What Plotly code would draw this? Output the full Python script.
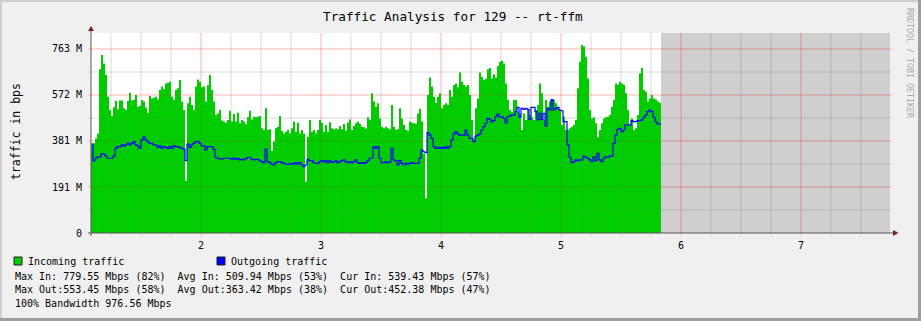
import plotly.graph_objects as go

# ---------------- data (values in M bits/s) ----------------
incoming_mbps = [
    365, 372, 392, 413, 679, 738, 703, 655, 565, 510,
    485, 521, 547, 513, 549, 549, 517, 510, 547, 582,
    549, 551, 572, 524, 527, 551, 545, 520, 499, 568,
    558, 561, 565, 554, 593, 607, 596, 620, 623, 627,
    565, 551, 593, 600, 634, 545, 510, 217, 538, 565,
    531, 510, 607, 637, 627, 604, 607, 545, 614, 655,
    593, 545, 489, 496, 510, 466, 462, 457, 469, 507,
    462, 493, 462, 499, 455, 469, 462, 451, 480, 507,
    471, 482, 480, 482, 485, 434, 427, 517, 427, 430,
    341, 379, 434, 441, 485, 424, 413, 420, 427, 413,
    434, 462, 420, 457, 413, 427, 413, 213, 399, 469,
    420, 427, 413, 427, 469, 457, 420, 448, 420, 459,
    434, 430, 433, 430, 444, 430, 452, 423, 457, 471,
    427, 444, 455, 462, 452, 441, 438, 433, 480, 469,
    579, 545, 524, 538,
    475, 441, 434, 441, 434, 430, 531, 441, 427, 430,
    517, 475, 448, 427, 424, 462, 457, 455, 452, 496,
    515, 462, 330, 144, 572, 645, 607, 565, 540, 565,
    579, 517, 531, 538, 531, 593, 565, 614, 620, 604,
    665, 627, 614, 607, 614, 572, 469, 386, 517, 558,
    665, 648, 634, 641, 679, 684, 641, 658, 645, 692,
    710, 714, 703, 620, 551, 510, 503, 551, 551, 503,
    496, 427, 496, 469, 510, 489, 480, 469, 510, 531,
    620, 579, 469, 551, 524, 545, 551, 551, 538, 517,
    510, 448, 482, 427, 427, 434, 441, 448, 469, 600,
    710, 779.55, 773, 731, 641, 510, 475, 480, 455, 397,
    427, 455, 475, 480, 482, 489, 524, 551, 620, 614,
    627, 620, 614, 579, 510, 448, 475, 427, 434, 489,
    662, 684, 593, 586, 545, 558, 572, 558, 554, 545,
    539.43,
]

outgoing_mbps = [
    369, 299, 310, 316, 316, 328, 328, 319, 310, 310,
    310, 319, 351, 358, 358, 365, 361, 365, 372, 365,
    372, 379, 365, 361, 351, 386, 399, 386, 379, 372,
    372, 365, 365, 355, 361, 351, 358, 355, 351, 358,
    351, 361, 358, 358, 355, 351, 348, 300, 369, 355,
    365, 372, 379, 379, 372, 361, 361, 344, 358, 358,
    358, 347, 314, 310, 307, 307, 310, 310, 310, 310,
    305, 311, 305, 310, 303, 305, 303, 308, 314, 314,
    305, 303, 305, 305, 299, 296, 292, 347, 296, 292,
    286, 282, 292, 296, 296, 292, 289, 286, 286, 286,
    289, 286, 292, 286, 292, 283, 275, 282, 305, 300,
    300, 292, 289, 289, 296, 300, 295, 300, 292, 300,
    293, 295, 300, 292, 296, 300, 303, 296, 292, 296,
    292, 296, 303, 292, 289, 292, 289, 292, 300, 310,
    310, 358, 351, 358,
    310, 292, 292, 295, 292, 295, 351, 303, 300, 282,
    300, 289, 282, 289, 286, 289, 292, 289, 289, 289,
    310, 344, 337, 333, 416, 406, 392, 358, 351, 355,
    351, 355, 351, 358, 351, 358, 386, 411, 420, 411,
    406, 406, 406, 427, 406, 392, 392, 379, 402, 406,
    411, 427, 441, 455, 475, 471, 462, 466, 482, 493,
    480, 482, 475, 457, 482, 485, 489, 489, 503, 521,
    480, 517, 513, 517, 513, 471, 521, 521, 503, 469,
    496, 471, 496, 444, 517, 510, 553.45, 510, 517, 521,
    510, 507, 462, 462, 365, 314, 292, 296, 303, 300,
    303, 303, 319, 314, 310, 303, 296, 316, 300, 330,
    303, 296, 310, 316, 314, 319, 319, 372, 406, 430,
    434, 420, 427, 448, 448, 448, 466, 462, 462, 466,
    466, 469, 480, 489, 503, 510, 503, 480, 462, 452,
    452.38,
]

x_tick_values = [2, 3, 4, 5, 6, 7]
x_tick_labels = ["2", "3", "4", "5", "6", "7"]
y_tick_values = [0, 190.75, 381.5, 572.25, 763.0]
y_tick_labels = ["0", "191 M", "381 M", "572 M", "763 M"]

legend_names = ["Incoming traffic", "Outgoing traffic"]
stats_lines = [
    "Max In: 779.55 Mbps (82%)  Avg In: 509.94 Mbps (53%)  Cur In: 539.43 Mbps (57%)",
    "Max Out:553.45 Mbps (58%)  Avg Out:363.42 Mbps (38%)  Cur Out:452.38 Mbps (47%)",
    "100% Bandwidth 976.56 Mbps",
]
title_text = "Traffic Analysis for 129 -- rt-ffm"

# sample timing on the x axis
T_START = 1.0 + 1.0 / 12.0
T_STEP = 1.0 / 60.0
X_MAX = 7.7417
Y_MAX = 829.3

# ---------------- styling ----------------
MONO = "DejaVu Sans Mono"
GREEN = "#00CC00"
BLUE = "#0000FF"
BG = "#F0F0F0"
FUTURE = "#CFCFCF"
MINOR_GRID = "rgba(128,128,128,0.20)"
MAJOR_GRID = "rgba(255,0,0,0.19)"
MINOR_OVER = "rgba(128,128,128,0.12)"
MAJOR_OVER = "rgba(255,0,0,0.13)"
AXIS = "#5A5050"
ARROW = "#7F1F1F"

W, H = 921, 321
PL, PT, PW, PH = 91, 33, 799, 200


def px(X):
    return (X - PL) / PW


def py(Y):
    return (PT + PH - Y) / PH


n = len(incoming_mbps)
xs = [T_START + i * T_STEP for i in range(n + 1)]
inc = incoming_mbps + [incoming_mbps[-1]]
m = len(outgoing_mbps)
xo = [T_START + i * T_STEP for i in range(m + 1)]
out = outgoing_mbps + [outgoing_mbps[-1]]

fig = go.Figure()
fig.add_trace(go.Scatter(
    x=xs, y=inc, mode="lines", fill="tozeroy", fillcolor=GREEN,
    line=dict(width=0, shape="hv", color=GREEN), showlegend=False,
    hoverinfo="skip"))
fig.add_trace(go.Scatter(
    x=xo, y=out, mode="lines",
    line=dict(width=1.2, shape="hv", color=BLUE), showlegend=False,
    hoverinfo="skip"))

shapes = []
# future (no data) region
shapes.append(dict(type="rect", xref="x", yref="paper", x0=xs[-1], x1=X_MAX,
                   y0=0, y1=1, fillcolor=FUTURE, line=dict(width=0), layer="below"))

# grid: one layer under the data, a faint one over it (like rrdtool)
k0 = int(T_START / 0.25) + 1
k1 = int(X_MAX / 0.25)
for k in range(k0, k1 + 1):
    xv = k * 0.25
    major = abs(xv - round(xv)) < 1e-9
    shapes.append(dict(type="line", xref="x", yref="paper", x0=xv, x1=xv,
                       y0=py(237), y1=1, layer="between",
                       line=dict(color=MAJOR_GRID if major else MINOR_GRID, width=1)))
    shapes.append(dict(type="line", xref="x", yref="paper", x0=xv, x1=xv,
                       y0=0, y1=1, layer="above",
                       line=dict(color=MAJOR_OVER if major else MINOR_OVER, width=1)))
minor_step = y_tick_values[1] / 2
j = 1
while j * minor_step < Y_MAX:
    yv = j * minor_step
    major = (j % 2 == 0)
    shapes.append(dict(type="line", xref="paper", yref="y", x0=px(88), x1=px(893),
                       y0=yv, y1=yv, layer="between",
                       line=dict(color=MAJOR_GRID if major else MINOR_GRID, width=1)))
    shapes.append(dict(type="line", xref="paper", yref="y", x0=0, x1=1,
                       y0=yv, y1=yv, layer="above",
                       line=dict(color=MAJOR_OVER if major else MINOR_OVER, width=1)))
    j += 1

# axis lines, extensions and arrows
shapes.append(dict(type="line", xref="paper", yref="paper", x0=px(91), x1=px(91),
                   y0=py(236), y1=py(30), line=dict(color=AXIS, width=1), layer="above"))
shapes.append(dict(type="line", xref="paper", yref="paper", x0=px(88), x1=px(893),
                   y0=py(233), y1=py(233), line=dict(color=AXIS, width=1), layer="above"))
shapes.append(dict(type="path", xref="paper", yref="paper",
                   path=f"M {px(88)},{py(31)} L {px(94)},{py(31)} L {px(91)},{py(26)} Z",
                   fillcolor=ARROW, line=dict(width=0), layer="above"))
shapes.append(dict(type="path", xref="paper", yref="paper",
                   path=f"M {px(893)},{py(230)} L {px(893)},{py(236)} L {px(898.5)},{py(233)} Z",
                   fillcolor=ARROW, line=dict(width=0), layer="above"))

# legend squares
for X0, col in [(14, GREEN), (217, BLUE)]:
    shapes.append(dict(type="rect", xref="paper", yref="paper",
                       x0=px(X0), x1=px(X0 + 8), y0=py(265), y1=py(257),
                       fillcolor=col, line=dict(color="#202020", width=1), layer="above"))

# 3-D frame
shapes.append(dict(type="rect", xref="paper", yref="paper", x0=px(0), x1=px(921),
                   y0=py(0), y1=py(2), fillcolor="#CFCFCF", line=dict(width=0)))
shapes.append(dict(type="rect", xref="paper", yref="paper", x0=px(0), x1=px(2),
                   y0=py(0), y1=py(321), fillcolor="#CFCFCF", line=dict(width=0)))
shapes.append(dict(type="rect", xref="paper", yref="paper", x0=px(918), x1=px(921),
                   y0=py(0), y1=py(321), fillcolor="#9E9E9E", line=dict(width=0)))
shapes.append(dict(type="rect", xref="paper", yref="paper", x0=px(0), x1=px(921),
                   y0=py(318), y1=py(321), fillcolor="#9E9E9E", line=dict(width=0)))

annotations = []
annotations.append(dict(text=title_text, xref="paper", yref="paper",
                        x=px(453), y=py(17), xanchor="center", yanchor="middle",
                        showarrow=False, font=dict(family=MONO, size=12.7, color="#000000")))
annotations.append(dict(text="traffic in bps", xref="paper", yref="paper",
                        x=px(16), y=py(132), xanchor="center", yanchor="middle",
                        textangle=-90, showarrow=False,
                        font=dict(family=MONO, size=11.5, color="#000000")))
annotations.append(dict(text="RRDTOOL / TOBI OETIKER", xref="paper", yref="paper",
                        x=px(910), y=py(63), xanchor="center", yanchor="middle",
                        textangle=90, showarrow=False,
                        font=dict(family=MONO, size=8.3, color="#AAAAAA")))
for X0, name in [(27, legend_names[0]), (230, legend_names[1])]:
    annotations.append(dict(text=name, xref="paper", yref="paper",
                            x=px(X0), y=py(261), xanchor="left", yanchor="middle",
                            showarrow=False, borderpad=0,
                            font=dict(family=MONO, size=10, color="#000000")))
for Y0, line in zip([276, 289, 303], stats_lines):
    annotations.append(dict(text=line.replace(" ", "\u00a0"), xref="paper", yref="paper",
                            x=px(14), y=py(Y0), xanchor="left", yanchor="middle",
                            showarrow=False, borderpad=0,
                            font=dict(family=MONO, size=10, color="#000000")))

fig.update_layout(
    width=W, height=H,
    margin=dict(l=PL, r=W - PL - PW, t=PT, b=H - PT - PH, pad=0),
    paper_bgcolor=BG, plot_bgcolor="#FFFFFF",
    showlegend=False,
    shapes=shapes, annotations=annotations,
    xaxis=dict(range=[T_START, X_MAX], tickmode="array", tickvals=x_tick_values,
               ticktext=x_tick_labels, showgrid=False, zeroline=False,
               showline=False, ticks="outside", ticklen=3, tickcolor="rgba(0,0,0,0)",
               tickfont=dict(family=MONO, size=10, color="#000000"),
               fixedrange=True),
    yaxis=dict(range=[0, Y_MAX], tickmode="array", tickvals=y_tick_values,
               ticktext=y_tick_labels, showgrid=False, zeroline=False,
               showline=False, ticks="outside", ticklen=3, tickcolor="rgba(0,0,0,0)",
               ticklabelstandoff=3,
               tickfont=dict(family=MONO, size=10, color="#000000"),
               fixedrange=True),
)

fig.write_html("out.html")
